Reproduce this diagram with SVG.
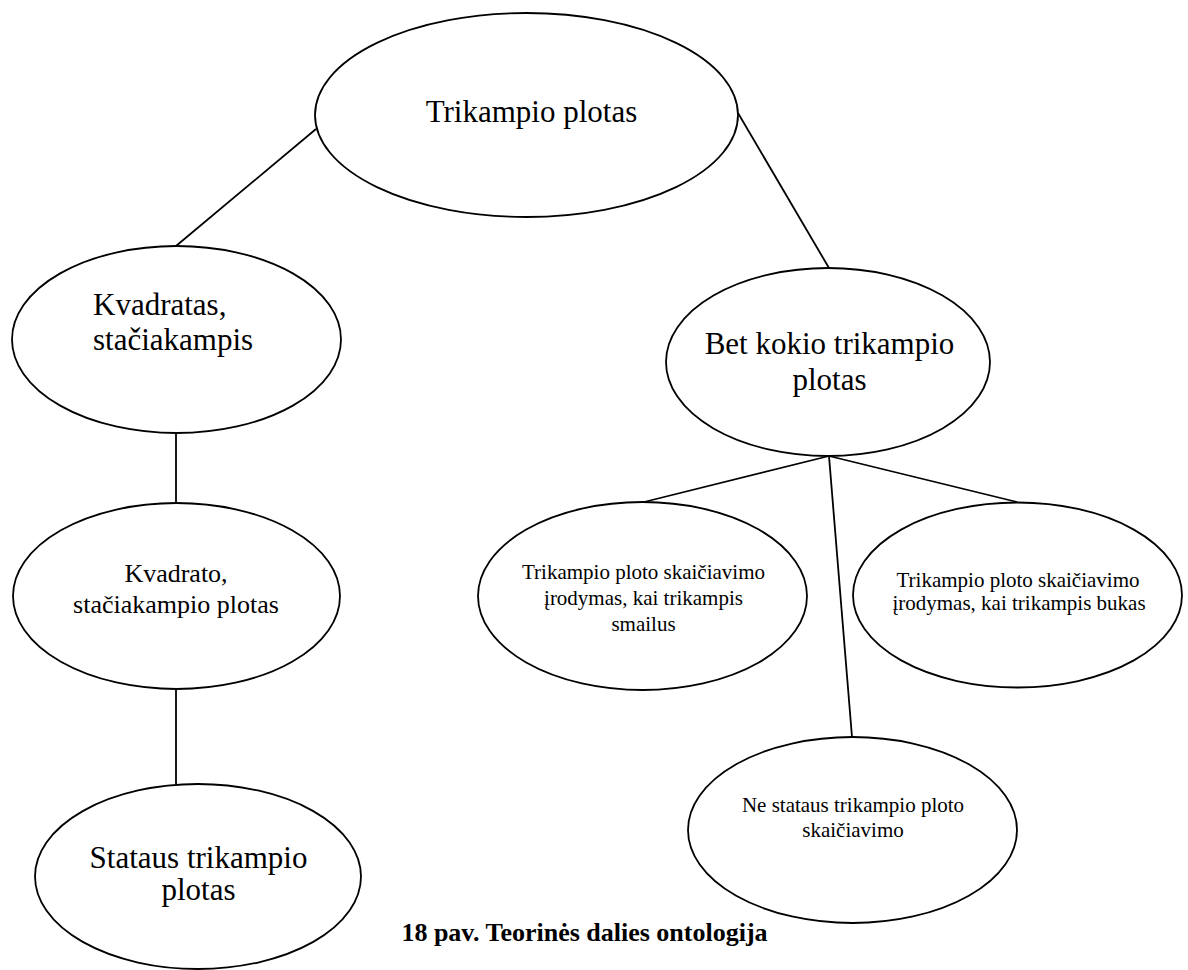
<svg xmlns="http://www.w3.org/2000/svg" width="1188" height="970" viewBox="0 0 1188 970">
  <style>
    .node ellipse { fill: #ffffff; stroke: #000000; stroke-width: 1.8; }
    .edges line { stroke: #000000; stroke-width: 1.8; }
    text { font-family: "Liberation Serif", "Times New Roman", serif; fill: #000000; }
    .big { font-size: 31px; }
    .mid { font-size: 26px; }
    .small { font-size: 21px; }
    .c { text-anchor: middle; }
    .caption { font-size: 26px; font-weight: bold; text-anchor: middle; }
  </style>
  <rect width="1188" height="970" fill="#ffffff"/>

  <!-- connectors -->
  <g id="edges" class="edges">
    <line x1="316" y1="129" x2="176" y2="246"/>
    <line x1="738" y1="113" x2="829" y2="268"/>
    <line x1="176" y1="433" x2="176" y2="503"/>
    <line x1="176" y1="689" x2="176" y2="784"/>
    <line x1="829" y1="456" x2="644" y2="502"/>
    <line x1="829" y1="456" x2="1017" y2="502"/>
    <line x1="829" y1="456" x2="852" y2="737"/>
  </g>

  <g id="n-trikampio-plotas" class="node">
    <ellipse cx="526.5" cy="115" rx="211.5" ry="102"/>
    <text class="big c" x="531.5" y="122">Trikampio plotas</text>
  </g>

  <g id="n-kvadratas" class="node">
    <ellipse cx="176.5" cy="339.5" rx="164.5" ry="93.5"/>
    <text class="big" x="93" y="315">Kvadratas,</text>
    <text class="big" x="93" y="350">stačiakampis</text>
  </g>

  <g id="n-kvadrato-plotas" class="node">
    <ellipse cx="176.5" cy="596" rx="163.5" ry="93"/>
    <text class="mid c" x="176" y="582">Kvadrato,</text>
    <text class="mid c" x="176" y="613">stačiakampio plotas</text>
  </g>

  <g id="n-stataus" class="node">
    <ellipse cx="198" cy="876.5" rx="163" ry="92.5"/>
    <text class="big c" x="198.5" y="868">Stataus trikampio</text>
    <text class="big c" x="198.5" y="900">plotas</text>
  </g>

  <g id="n-bet-kokio" class="node">
    <ellipse cx="828" cy="362" rx="162" ry="94"/>
    <text class="big c" x="829.5" y="354">Bet kokio trikampio</text>
    <text class="big c" x="829.5" y="390">plotas</text>
  </g>

  <g id="n-smailus" class="node">
    <ellipse cx="642.5" cy="596" rx="164.5" ry="94"/>
    <text class="small c" x="643.5" y="579">Trikampio ploto skaičiavimo</text>
    <text class="small c" x="643.5" y="605">įrodymas, kai trikampis</text>
    <text class="small c" x="643.5" y="631">smailus</text>
  </g>

  <g id="n-bukas" class="node">
    <ellipse cx="1017.5" cy="595" rx="164.5" ry="92.5"/>
    <text class="small c" x="1018" y="587">Trikampio ploto skaičiavimo</text>
    <text class="small c" x="1019" y="610">įrodymas, kai trikampis bukas</text>
  </g>

  <g id="n-ne-stataus" class="node">
    <ellipse cx="852.5" cy="830" rx="164.5" ry="93"/>
    <text class="small c" x="853" y="812">Ne stataus trikampio ploto</text>
    <text class="small c" x="853" y="837">skaičiavimo</text>
  </g>

  <text id="caption" class="caption" x="584.5" y="941">18 pav. Teorinės dalies ontologija</text>
</svg>
